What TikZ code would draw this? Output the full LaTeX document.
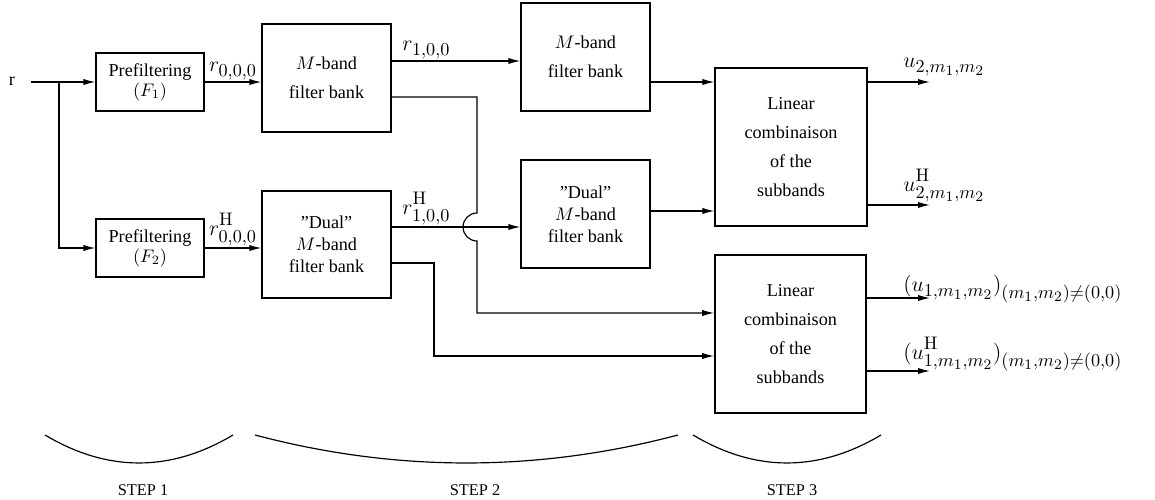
\documentclass[tikz,border=0pt]{standalone}
\usepackage[no-math]{fontspec}
\setmainfont{Liberation Serif}
\DeclareMathSizes{12}{12}{10}{8}
\usetikzlibrary{arrows.meta,calc}
\newcommand{\hsup}{^{\raisebox{1.2pt}{$\scriptstyle\mathrm{H}$}}}
\tikzset{
  box/.style={draw, line width=0.65pt, inner sep=0pt, align=center, font=\normalsize},
  arr/.style={line width=0.65pt, -{Latex[length=6.6pt,width=3.4pt]}},
  lbl/.style={font=\large, inner sep=1pt},
  brace/.style={line width=0.65pt},
  steplbl/.style={font=\small, inner sep=0pt}
}
\begin{document}
\begin{tikzpicture}[x=0.55pt, y=-0.55pt]
\useasboundingbox (0,0) rectangle (1155,500);
% boxes
\node[box, minimum width=59.4pt, minimum height=31.9pt] (F1) at (150,82) {Prefiltering\\[-1pt]$(F_1)$};
\node[box, minimum width=59.4pt, minimum height=31.9pt] (F2) at (150,248) {Prefiltering\\[-1pt]$(F_2)$};
\node[box, minimum width=71pt, minimum height=59.4pt] (MB1) at (326.5,78) {$M$-band\\[4pt]filter bank};
\node[box, minimum width=71pt, minimum height=58.9pt] (DMB1) at (326.5,244.5) {''Dual''\\$M$-band\\filter bank};
\node[box, minimum width=71pt, minimum height=59.4pt] (MB2) at (585.5,57) {$M$-band\\[4pt]filter bank};
\node[box, minimum width=71pt, minimum height=59.4pt] (DMB2) at (585.5,214) {''Dual''\\$M$-band\\filter bank};
\node[box, minimum width=83.6pt, minimum height=86.9pt] (LC1) at (791,147) {Linear\\[4pt]combinaison\\[4pt]of the\\[4pt]subbands};
\node[box, line width=0.95pt, minimum width=83pt, minimum height=86.9pt] (LC2) at (790.5,334) {Linear\\[4pt]combinaison\\[4pt]of the\\[4pt]subbands};
% input
\node[inner sep=0pt] (rin) at (12,81) {r};
\coordinate (in) at (31,82);
\coordinate (split) at (59,82);
\draw[line width=0.65pt] (in) -- (split);
\draw[arr] (split) -- (F1.west);
\draw[arr] (split) |- (F2.west);
% step 1 -> step 2
\draw[arr] (F1.east) -- (F1.east -| MB1.west) node[lbl, midway, above] {$r_{0,0,0}$};
\draw[arr] (F2.east) -- (F2.east -| DMB1.west) node[lbl, midway, above] {$r\hsup_{0,0,0}$};
% outputs of first filter banks
\coordinate (mb1o1) at ($(MB1.east)+(0,-17)$);
\coordinate (mb1o2) at ($(MB1.east)+(0,19)$);
\coordinate (dmb1o1) at ($(DMB1.east)+(0,-17.5)$);
\coordinate (dmb1o2) at ($(DMB1.east)+(0,18.5)$);
\coordinate (lc2i1) at ($(LC2.west)+(0,-21)$);
\coordinate (lc2i2) at ($(LC2.west)+(0,22)$);
\coordinate (jx) at (477,0);
\coordinate (kx) at (434,0);
\coordinate (jA) at (477,213);
\draw[arr] (mb1o1) -- (mb1o1 -| MB2.west) node[lbl, pos=0.27, above] {$r_{1,0,0}$};
\draw[arr] (dmb1o1) -- (dmb1o1 -| DMB2.west) node[lbl, pos=0.27, above] {$r\hsup_{1,0,0}$};
\draw[arr] (mb1o2) -- (mb1o2 -| jx) -- (jA) arc[start angle=270, end angle=90, radius=14] -- (jx |- lc2i1) -- (lc2i1);
\draw[arr] (dmb1o2) -- (dmb1o2 -| kx) |- (lc2i2);
% second filter banks -> LC1
\coordinate (mb2o) at ($(MB2.east)+(0,25)$);
\coordinate (dmb2o) at ($(DMB2.east)+(0,-3)$);
\draw[arr] (mb2o) -- (mb2o -| LC1.west);
\draw[arr] (dmb2o) -- (dmb2o -| LC1.west);
% outputs
\coordinate (o1) at (930,82);
\coordinate (o2) at (930,205);
\coordinate (o3) at (930,298);
\coordinate (o4) at (930,371);
\draw[arr] (LC1.east |- o1) -- (o1);
\draw[arr] (LC1.east |- o2) -- (o2);
\draw[arr] (LC2.east |- o3) -- (o3);
\draw[arr] (LC2.east |- o4) -- (o4);
\node[lbl, anchor=base west, inner sep=0pt] (u2) at (903,68) {$u_{2,m_1,m_2}$};
\node[lbl, anchor=base west, inner sep=0pt] (u2h) at (903,192) {$u\hsup_{2,m_1,m_2}$};
\node[lbl, anchor=base west, inner sep=0pt] (u1) at (903,292) {$(u_{1,m_1,m_2})_{(m_1,m_2)\neq(0,0)}$};
\node[lbl, anchor=base west, inner sep=0pt] (u1h) at (903,360) {$(u\hsup_{1,m_1,m_2})_{(m_1,m_2)\neq(0,0)}$};
% step braces
\draw[brace] (45,435) .. controls (107.7,472.3) and (170.3,472.3) .. (233,435);
\draw[brace] (255,435) .. controls (396,472.3) and (537,472.3) .. (678,435);
\draw[brace] (693,435) .. controls (755.7,472.3) and (818.3,472.3) .. (881,435);
\node[steplbl] (s1) at (143,490) {STEP 1};
\node[steplbl] (s2) at (475,490) {STEP 2};
\node[steplbl] (s3) at (792,490) {STEP 3};
\end{tikzpicture}
\end{document}
